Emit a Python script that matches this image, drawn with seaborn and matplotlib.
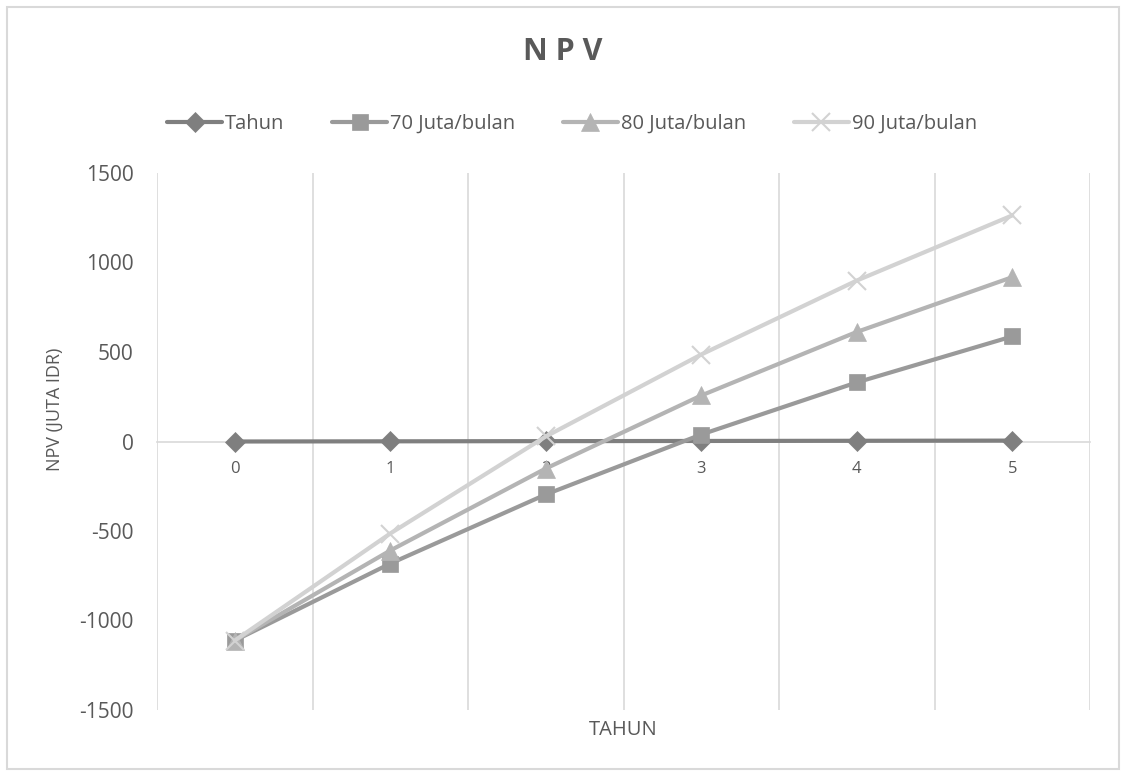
import numpy as np
import pandas as pd
import matplotlib
matplotlib.use("Agg")
import matplotlib.pyplot as plt
import seaborn as sns

# data (NPV in juta IDR per tahun)
tahun = [0, 1, 2, 3, 4, 5]
series_names = ["Tahun", "70 Juta/bulan", "80 Juta/bulan", "90 Juta/bulan"]
npv_tahun = [0, 1, 2, 3, 4, 5]
npv_70 = [-1112, -682, -296, 39, 330, 587]
npv_80 = [-1112, -609, -151, 257, 612, 918]
npv_90 = [-1112, -514, 28, 486, 899, 1263]

warna = ["#7f7f7f", "#9a9a9a", "#b4b4b4", "#d2d2d2"]
penanda = ["D", "s", "^", "x"]
ukuran = [10, 12, 13, 13]

df = pd.DataFrame({
    "tahun": tahun * 4,
    "npv": npv_tahun + npv_70 + npv_80 + npv_90,
    "seri": [s for s in series_names for _ in tahun],
})

sns.set_theme(style="white")
plt.rcParams["font.family"] = ["Open Sans", "DejaVu Sans"]
plt.rcParams["axes.unicode_minus"] = False
teks = "#595959"
abu = "#d9d9d9"

fig = plt.figure(figsize=(11.26, 7.72), dpi=100)
ax = fig.add_axes([157 / 1126, 62 / 772, 933 / 1126, 537 / 772])

for nama, c, m, ms in zip(series_names, warna, penanda, ukuran):
    d = df[df["seri"] == nama]
    sns.lineplot(data=d, x="tahun", y="npv", ax=ax, color=c, lw=3,
                 marker=m, markersize=ms, markeredgecolor=c,
                 markeredgewidth=1.5 if m == "x" else 0.5, label=nama)

ax.set_xlim(-0.5, 5.5)
ax.set_ylim(-1500, 1500)
ax.set_yticks([-1500, -1000, -500, 0, 500, 1000, 1500])
ax.set_xticks(tahun)
ax.set_xticklabels([str(t) for t in tahun])
ax.set_xticks(np.arange(-0.5, 6, 1), minor=True)
ax.grid(which="minor", axis="x", color=abu, lw=1.2)
ax.grid(which="major", axis="both", visible=False)

for s in ["top", "right", "left"]:
    ax.spines[s].set_visible(False)
ax.spines["bottom"].set_position(("data", 0))
ax.spines["bottom"].set_color(abu)
ax.spines["bottom"].set_linewidth(1.2)
ax.spines["bottom"].set_zorder(0.5)

ax.tick_params(axis="x", which="both", length=0, pad=14, labelsize=12, labelcolor=teks)
ax.tick_params(axis="y", length=0, pad=17, labelsize=15, labelcolor=teks)

ax.set_xlabel("TAHUN", fontsize=14.5, color=teks, va="top")
ax.xaxis.set_label_coords(0.5, -0.018)
ax.set_ylabel("NPV (JUTA IDR)", fontsize=13, color=teks)
ax.yaxis.set_label_coords(-0.1, 0.56)

fig.text(0.5, 1 - 52 / 772, "N P V", ha="center", va="center", fontsize=22,
         fontweight="bold", color=teks)

h, l = ax.get_legend_handles_labels()
ax.get_legend().remove()
fig.legend(h, l, loc="center", bbox_to_anchor=(0.508, 1 - 124 / 772), ncol=4,
           frameon=False, fontsize=14.5, labelcolor=teks, handlelength=2.7,
           handletextpad=0.15, columnspacing=2.4, numpoints=1)

# bingkai luar chart
fig.patches.append(plt.Rectangle((7 / 1126, 3 / 772), 1112 / 1126, 762 / 772,
                                 transform=fig.transFigure, fill=False,
                                 edgecolor=abu, lw=1.5))

fig.savefig("out.png", dpi=100)
